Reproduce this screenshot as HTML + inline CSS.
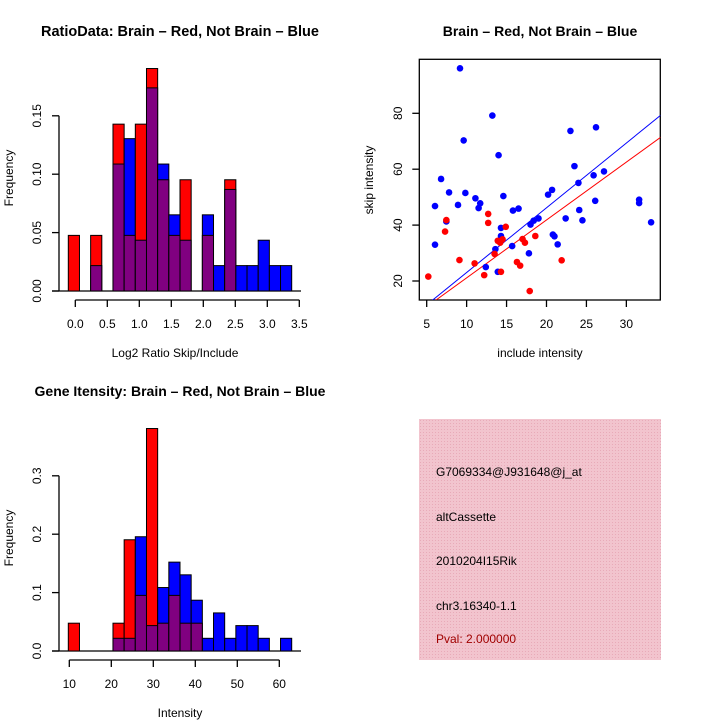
<!DOCTYPE html>
<html><head><meta charset="utf-8"><style>
html,body{margin:0;padding:0;background:#fff;}
svg{display:block;font-family:"Liberation Sans",sans-serif;}
</style></head><body>
<svg id="chart" width="720" height="720" viewBox="0 0 720 720" xmlns="http://www.w3.org/2000/svg">
<defs>
<pattern id="hatch" width="3" height="3" patternUnits="userSpaceOnUse">
<rect width="3" height="3" fill="#f2c4ce"/>
<rect width="1" height="1" fill="#e8aab8"/>
</pattern>
<clipPath id="scClip"><rect x="419.3" y="59.3" width="241" height="240.7"/></clipPath>
</defs>
<text x="180" y="36" text-anchor="middle" font-size="14.5" font-weight="bold">RatioData: Brain – Red, Not Brain – Blue</text>
<text transform="translate(13,178) rotate(-90)" text-anchor="middle" font-size="12">Frequency</text>
<text x="175" y="357" text-anchor="middle" font-size="12">Log2 Ratio Skip/Include</text>
<text x="540" y="36" text-anchor="middle" font-size="14" font-weight="bold">Brain – Red, Not Brain – Blue</text>
<text transform="translate(373,180) rotate(-90)" text-anchor="middle" font-size="12">skip intensity</text>
<text x="540" y="357" text-anchor="middle" font-size="12">include intensity</text>
<text x="180" y="396" text-anchor="middle" font-size="14" font-weight="bold">Gene Itensity: Brain – Red, Not Brain – Blue</text>
<text transform="translate(13,538) rotate(-90)" text-anchor="middle" font-size="12">Frequency</text>
<text x="180" y="717" text-anchor="middle" font-size="12">Intensity</text>
<g>
<rect x="419" y="419" width="242" height="241" fill="url(#hatch)"/>
<text x="436" y="476" font-size="12">G7069334@J931648@j_at</text>
<text x="436" y="521" font-size="12">altCassette</text>
<text x="436" y="565" font-size="12">2010204I15Rik</text>
<text x="436" y="610" font-size="12">chr3.16340-1.1</text>
<text x="436" y="643" font-size="12" fill="#a00000">Pval: 2.000000</text>
</g>
<g id="h1"></g>
<g id="sc"></g>
<g id="h2"></g>
</svg>
<script>
// Ratio histogram (counts per bin)
const ratioRed = [1,0,1,0,3,1,3,4,2,1,2,0,1,0,2,0,0,0,0,0];
const ratioBlue = [0,0,1,0,5,6,2,8,5,3,2,0,3,1,4,1,1,2,1,1];
const ratioXTicks = ["0.0","0.5","1.0","1.5","2.0","2.5","3.0","3.5"];
const ratioYTicks = ["0.00","0.05","0.10","0.15"];
// Intensity histogram (counts per bin)
const intRed = [1,0,0,0,1,4,2,8,1,2,1,1,0,0,0,0,0,0,0,0];
const intBlue = [0,0,0,0,1,1,9,2,5,7,6,4,1,3,1,2,2,1,0,1];
const intXTicks = ["10","20","30","40","50","60"];
const intYTicks = ["0.0","0.1","0.2","0.3"];
const redTotal = 21, blueTotal = 46;
// Scatter
const blueX = [9.17,13.22,9.63,14.0,6.8,7.8,9.84,8.92,6.04,11.1,11.7,11.5,7.46,14.6,15.8,16.5,14.3,14.3,13.6,6.04,12.4,13.9,15.7,17.8,18.0,18.4,19.0,20.2,20.7,20.8,21.0,21.4,22.4,23.0,23.5,24.0,24.1,24.5,25.9,26.1,26.2,27.2,31.6,31.6,33.1];
const blueY = [96.1,79.2,70.3,65.0,56.5,51.7,51.5,47.2,46.8,49.6,47.8,46.1,41.3,50.4,45.2,45.9,39.0,36.1,31.4,33.0,25.0,23.3,32.5,29.9,40.2,41.6,42.4,50.9,52.6,36.6,36.0,33.1,42.4,73.7,61.1,55.1,45.4,41.7,57.8,48.7,75.0,59.2,49.1,47.9,41.0];
const redX = [5.2,7.46,7.3,9.1,11.0,12.2,12.7,12.7,13.5,13.9,14.2,14.5,14.3,14.9,16.3,16.7,17.0,17.3,18.6,17.9,21.9];
const redY = [21.6,41.8,37.7,27.5,26.3,22.1,44.0,40.8,29.7,34.4,33.7,34.9,23.3,39.4,26.8,25.5,35.0,33.7,36.1,16.4,27.4];
const blueFit = [-0.12, 2.316];
const redFit = [0.42, 2.07];
const scXTicks = [5,10,15,20,25,30];
const scYTicks = [20,40,60,80];

const NS="http://www.w3.org/2000/svg";
function mk(parent,tag,attrs){const e=document.createElementNS(NS,tag);for(const k in attrs)e.setAttribute(k,attrs[k]);parent.appendChild(e);return e;}

function histo(g, red, blue, xTicks, yTicks, cfg){
  const binW=11.17, x0=68.3;
  const yS=v=>cfg.base - v*cfg.pxPerUnit;
  mk(g,'line',{x1:52,x2:301,y1:cfg.base,y2:cfg.base,stroke:'#000','stroke-width':1.3});
  for(let i=0;i<red.length;i++){
    const r=red[i]/redTotal, b=blue[i]/blueTotal;
    const x=x0+i*binW;
    const hi=Math.max(r,b), lo=Math.min(r,b);
    if(hi>0){
      const e=mk(g,'rect',{x:x,y:yS(hi),width:binW,height:cfg.base-yS(hi),fill:r>=b?'#ff0000':'#0000ff',stroke:'#000','stroke-width':1});
      
      
    }
    if(lo>0){
      const e=mk(g,'rect',{x:x,y:yS(lo),width:binW,height:cfg.base-yS(lo),fill:'#800080',stroke:'#000','stroke-width':1});
      
      
    }
  }
  const yTop=yS(parseFloat(yTicks[yTicks.length-1]));
  mk(g,'line',{x1:59,x2:59,y1:cfg.base,y2:yTop,stroke:'#000','stroke-width':1.3});
  yTicks.forEach(t=>{const y=yS(parseFloat(t));
    mk(g,'line',{x1:52,x2:59,y1:y,y2:y,stroke:'#000','stroke-width':1.3});
    const tx=mk(g,'text',{transform:`translate(41,${y}) rotate(-90)`,'text-anchor':'middle','font-size':12});tx.textContent=t;
    
    
  });
  const xS=v=>cfg.xa + (v-cfg.xv0)*cfg.xpx;
  const xs=xTicks.map(parseFloat);
  mk(g,'line',{x1:xS(xs[0]),x2:xS(xs[xs.length-1]),y1:cfg.axY,y2:cfg.axY,stroke:'#000','stroke-width':1.3});
  xTicks.forEach(t=>{const x=xS(parseFloat(t));
    mk(g,'line',{x1:x,x2:x,y1:cfg.axY,y2:cfg.axY+7,stroke:'#000','stroke-width':1.3});
    const tx=mk(g,'text',{x:x,y:cfg.axY+28,'text-anchor':'middle','font-size':12});tx.textContent=t;
    
    
  });
}
histo(document.getElementById('h1'),ratioRed,ratioBlue,ratioXTicks,ratioYTicks,{base:291,pxPerUnit:1168,axY:300,xa:75.3,xv0:0,xpx:64});
histo(document.getElementById('h2'),intRed,intBlue,intXTicks,intYTicks,{base:651,pxPerUnit:584,axY:660,xa:69.3,xv0:10,xpx:4.2});

(function(){
  const g=document.getElementById('sc');
  const xS=v=>426.7+(v-5)*7.986, yS=v=>281-(v-20)*2.795;
  mk(g,'rect',{x:419.3,y:59.3,width:241,height:240.7,fill:'none',stroke:'#000','stroke-width':1.3});
  scXTicks.forEach(t=>{const x=xS(t);
    mk(g,'line',{x1:x,x2:x,y1:300,y2:307,stroke:'#000','stroke-width':1.3});
    const tx=mk(g,'text',{x:x,y:328,'text-anchor':'middle','font-size':12});tx.textContent=t;
    
    
  });
  scYTicks.forEach(t=>{const y=yS(t);
    mk(g,'line',{x1:412.3,x2:419.3,y1:y,y2:y,stroke:'#000','stroke-width':1.3});
    const tx=mk(g,'text',{transform:`translate(402,${y}) rotate(-90)`,'text-anchor':'middle','font-size':12});tx.textContent=t;
    
    
  });
  const cg=mk(g,'g',{'clip-path':'url(#scClip)'});
  function line(fit,col,name){
    const l=mk(cg,'line',{x1:xS(0),y1:yS(fit[0]),x2:xS(40),y2:yS(fit[0]+fit[1]*40),stroke:col,'stroke-width':1});
    
    
  }
  blueX.forEach((x,i)=>{const c=mk(g,'circle',{cx:xS(x),cy:yS(blueY[i]),r:3.3,fill:'#0000ff'});
    
    });
  redX.forEach((x,i)=>{const c=mk(g,'circle',{cx:xS(x),cy:yS(redY[i]),r:3.3,fill:'#ff0000'});
    
    });
  line(blueFit,'#0000ff','blue-fit-line');
  line(redFit,'#ff0000','red-fit-line');
})();
</script>
</body></html>
